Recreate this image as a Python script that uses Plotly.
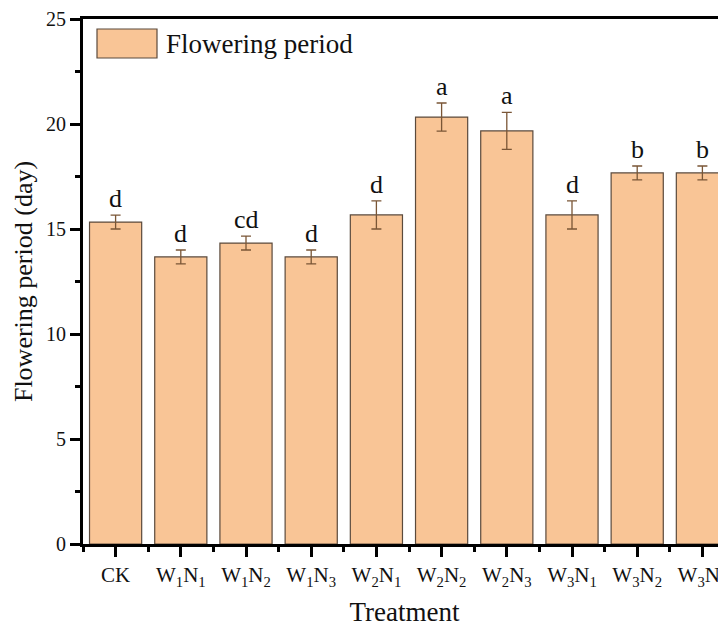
import plotly.graph_objects as go

categories = ["CK", "W<sub>1</sub>N<sub>1</sub>", "W<sub>1</sub>N<sub>2</sub>", "W<sub>1</sub>N<sub>3</sub>",
              "W<sub>2</sub>N<sub>1</sub>", "W<sub>2</sub>N<sub>2</sub>", "W<sub>2</sub>N<sub>3</sub>",
              "W<sub>3</sub>N<sub>1</sub>", "W<sub>3</sub>N<sub>2</sub>", "W<sub>3</sub>N<sub>3</sub>"]
flowering = [15.33, 13.67, 14.33, 13.67, 15.67, 20.33, 19.67, 15.67, 17.67, 17.67]
errors = [0.33, 0.33, 0.33, 0.33, 0.67, 0.67, 0.88, 0.67, 0.33, 0.33]
letters = ["d", "d", "cd", "d", "d", "a", "a", "d", "b", "b"]
y_ticks = [0, 5, 10, 15, 20, 25]

FONT = "Liberation Serif, Times New Roman, serif"
BAR = "#F9C596"
xs = list(range(len(categories)))

PW, PH = 643, 525  # plot area size in px

fig = go.Figure()
fig.add_trace(go.Bar(
    x=xs, y=flowering, width=0.8, name="Flowering period",
    marker=dict(color=BAR, line=dict(color="#5b4a3c", width=1.2)),
    error_y=dict(type="data", array=errors, visible=True, color="#7a5636", thickness=1.3, width=5),
    showlegend=False,
))

for x, v, e, t in zip(xs, flowering, errors, letters):
    fig.add_annotation(x=x, y=v + e, text=t, showarrow=False, yanchor="bottom", yshift=0,
                       font=dict(family=FONT, size=26, color="#111"))

# legend swatch + label
fig.add_shape(type="rect", xref="paper", yref="paper", x0=14 / PW, x1=74 / PW,
              y0=1 - 39 / PH, y1=1 - 10 / PH, fillcolor=BAR, line=dict(color="#5b4a3c", width=1.2))
fig.add_annotation(xref="paper", yref="paper", x=81 / PW, y=1 - 25 / PH, text="Flowering period",
                   showarrow=False, xanchor="left", yanchor="middle",
                   font=dict(family=FONT, size=27, color="#111"))

fig.update_layout(
    width=718, height=620,
    margin=dict(l=75, r=0, t=11, b=84),
    plot_bgcolor="white", paper_bgcolor="white",
    font=dict(family=FONT, size=20, color="#111"),
)
fig.update_xaxes(
    range=[-0.5, -0.5 + PW / 65.2], tickmode="array", tickvals=xs, ticktext=categories,
    ticklabeloverflow="allow",
    showline=True, linecolor="black", linewidth=3, mirror=True,
    ticks="outside", ticklen=10, tickwidth=3, tickcolor="black",
    minor=dict(tickmode="array", tickvals=[i + 0.5 for i in range(-1, 10)], ticks="outside", ticklen=5, tickwidth=3, tickcolor="black"),
    showgrid=False, zeroline=False,
    title=dict(text="Treatment", font=dict(family=FONT, size=27), standoff=14),
    tickfont=dict(family=FONT, size=21),
)
fig.update_yaxes(
    range=[0, 25], tickmode="array", tickvals=y_ticks,
    showline=True, linecolor="black", linewidth=3, mirror=False,
    ticks="outside", ticklen=10, tickwidth=3, tickcolor="black",
    minor=dict(tickmode="array", tickvals=[2.5, 7.5, 12.5, 17.5, 22.5], ticks="outside", ticklen=5, tickwidth=3, tickcolor="black"),
    showgrid=False, zeroline=False,
    title=dict(text="Flowering period (day)", font=dict(family=FONT, size=26), standoff=6),
    tickfont=dict(family=FONT, size=20),
)

fig.write_html("out.html")
